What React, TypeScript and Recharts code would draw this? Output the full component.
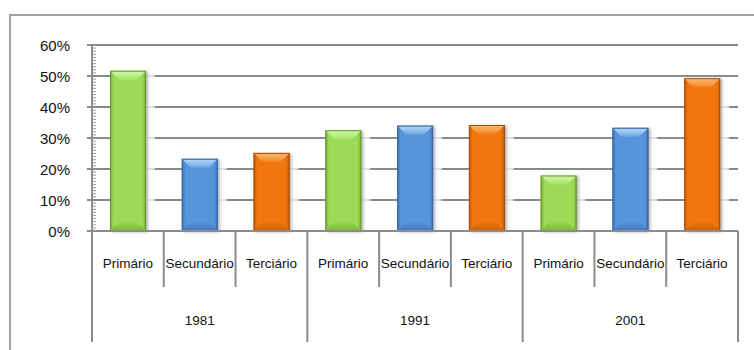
import { BarChart, Bar, XAxis, YAxis, CartesianGrid } from "recharts";

// Share of employment by sector, census years
const years = ["1981", "1991", "2001"];
const sectors = ["Primário", "Secundário", "Terciário"];
const share1981 = [51.7, 23.3, 25.2];
const share1991 = [32.5, 34.0, 34.2];
const share2001 = [17.9, 33.3, 49.3];
const yMajorTicks = [0, 10, 20, 30, 40, 50, 60];
const yMinorTicks = Array.from({ length: 61 }, (_, i) => i);

const shares = [share1981, share1991, share2001];
const rows = years.flatMap((year, yi) =>
  sectors.map((sector, si) => ({ year, sector, si, value: shares[yi][si] }))
);

const palette = [
  { edge: "#72ad34", main: "#9bdb57", light: "#cdf59f", dark: "#79b63a", line: "#65992e" },
  { edge: "#3c70b3", main: "#5795dc", light: "#b0d5f8", dark: "#4379bd", line: "#36649f" },
  { edge: "#c25806", main: "#f0760e", light: "#fcb56a", dark: "#cc620a", line: "#a94d05" },
];

const FONT = "'Liberation Sans', Arial, sans-serif";

const BevelBar = (props: any) => {
  const { x, y, width: w, height: h, payload } = props;
  if (!h || h <= 0) return null;
  const i = payload.si;
  const b = Math.min(10, h / 3);
  return (
    <g>
      {/* light halo on the right side, hides the grid next to the bar */}
      <rect x={x + w} y={y} width={9} height={h} fill="url(#halo)" />
      <rect x={x} y={y} width={w} height={h} fill={`url(#body${i})`} filter="url(#barShadow)" />
      <polygon
        points={`${x},${y} ${x + w},${y} ${x + w - b},${y + b} ${x + b},${y + b}`}
        fill={`url(#top${i})`}
      />
      <polygon
        points={`${x},${y + h} ${x + w},${y + h} ${x + w - b},${y + h - b} ${x + b},${y + h - b}`}
        fill={`url(#bot${i})`}
      />
      <rect x={x + 0.5} y={y + 0.5} width={w - 1} height={h - 1} fill="none" stroke={palette[i].line} strokeWidth={1} />
    </g>
  );
};

const SectorTick = (props: any) => {
  const { x, y, payload } = props;
  const idx = payload.index;
  const half = payload.offset || 35.9;
  const groupEnd = idx % 3 === 2;
  return (
    <g>
      <text x={x} y={y + 32} textAnchor="middle" dominantBaseline="central"
        fontFamily={FONT} fontSize={13.5} fill="#111">
        {payload.value}
      </text>
      {idx === 0 && (
        <line x1={x - half} x2={x - half} y1={y} y2={y + 111} stroke="#8c8c8c" strokeWidth={2} />
      )}
      <line x1={x + half} x2={x + half} y1={y} y2={y + (groupEnd ? 111 : 56)} stroke="#8c8c8c" strokeWidth={2} />
      {idx % 3 === 1 && (
        <text x={x} y={y + 89} textAnchor="middle" dominantBaseline="central"
          fontFamily={FONT} fontSize={13.5} fill="#111">
          {rows[idx].year}
        </text>
      )}
    </g>
  );
};

const PercentTick = (props: any) => {
  const { x, y, payload } = props;
  const major = payload.value % 10 === 0;
  if (!major) {
    return <line x1={x} x2={x + 4} y1={y} y2={y} stroke="#9a9a9a" strokeWidth={1} />;
  }
  return (
    <g>
      <line x1={x - 5} x2={x} y1={y} y2={y} stroke="#8c8c8c" strokeWidth={2} />
      <text x={x - 22} y={y} textAnchor="end" dominantBaseline="central"
        fontFamily={FONT} fontSize={15} fill="#111">
        {payload.value}%
      </text>
    </g>
  );
};

export default function App() {
  return (
    <div style={{ position: "absolute", left: 0, top: 0, width: 754, height: 350, overflow: "hidden", background: "#fff" }}>
      <div style={{ position: "absolute", left: 9, top: 14, width: 800, height: 400, borderTop: "2px solid #a3a3a3", borderLeft: "2px solid #a3a3a3" }} />
      <div style={{ position: "absolute", left: 0, top: 0 }}>
        <BarChart width={754} height={350} data={rows} margin={{ top: 45, right: 16, bottom: 0, left: 12 }} barSize={36}>
          <defs>
            {palette.map((c, i) => (
              <linearGradient key={`b${i}`} id={`body${i}`} x1="0" y1="0" x2="1" y2="0">
                <stop offset="0%" stopColor={c.edge} />
                <stop offset="10%" stopColor={c.main} />
                <stop offset="50%" stopColor={c.main} />
                <stop offset="90%" stopColor={c.main} />
                <stop offset="100%" stopColor={c.edge} />
              </linearGradient>
            ))}
            {palette.map((c, i) => (
              <linearGradient key={`t${i}`} id={`top${i}`} x1="0" y1="0" x2="0" y2="1">
                <stop offset="0%" stopColor={c.light} />
                <stop offset="35%" stopColor={c.light} stopOpacity={0.8} />
                <stop offset="100%" stopColor={c.main} />
              </linearGradient>
            ))}
            {palette.map((c, i) => (
              <linearGradient key={`d${i}`} id={`bot${i}`} x1="0" y1="0" x2="0" y2="1">
                <stop offset="0%" stopColor={c.main} />
                <stop offset="100%" stopColor={c.dark} />
              </linearGradient>
            ))}
            <linearGradient id="halo" x1="0" y1="0" x2="1" y2="0">
              <stop offset="0%" stopColor="#ffffff" stopOpacity={0.95} />
              <stop offset="100%" stopColor="#ffffff" stopOpacity={0.6} />
            </linearGradient>
            <filter id="barShadow" x="-20%" y="-10%" width="140%" height="120%">
              <feDropShadow dx={2} dy={1} stdDeviation={1.5} floodColor="#000" floodOpacity={0.3} />
            </filter>
          </defs>
          <CartesianGrid horizontal vertical={false} horizontalValues={yMajorTicks} stroke="#8a8a8a" strokeWidth={2} />
          <XAxis
            dataKey="sector"
            height={119}
            interval={0}
            tickLine={false}
            tickSize={0}
            tickMargin={0}
            axisLine={{ stroke: "#8c8c8c", strokeWidth: 2 }}
            tick={<SectorTick />}
          />
          <YAxis
            width={80}
            domain={[0, 60]}
            ticks={yMinorTicks}
            interval={0}
            tickLine={false}
            tickSize={0}
            tickMargin={0}
            axisLine={{ stroke: "#8c8c8c", strokeWidth: 2 }}
            tick={<PercentTick />}
          />
          <Bar dataKey="value" shape={<BevelBar />} isAnimationActive={false} />
        </BarChart>
      </div>
    </div>
  );
}
